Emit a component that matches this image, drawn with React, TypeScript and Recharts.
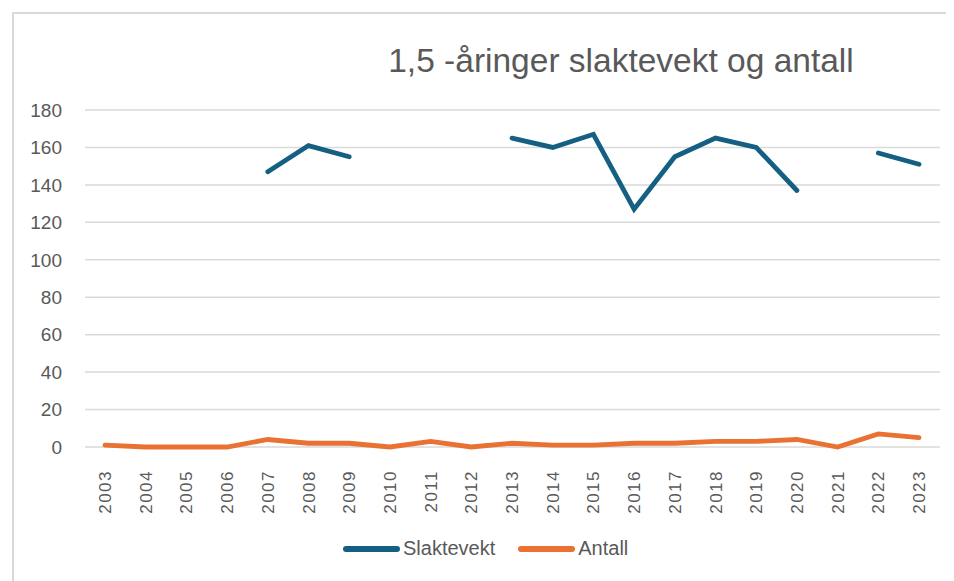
import React from 'react';
import { LineChart, Line, XAxis, YAxis, CartesianGrid } from 'recharts';

const years = [
  '2003', '2004', '2005', '2006', '2007', '2008', '2009', '2010', '2011', '2012', '2013',
  '2014', '2015', '2016', '2017', '2018', '2019', '2020', '2021', '2022', '2023',
];

// null = no slaughter weight recorded that year
const slaktevekt: (number | null)[] = [
  null, null, null, null, 147, 161, 155, null, null, null, 165,
  160, 167, 127, 155, 165, 160, 137, null, 157, 151,
];

const antall = [1, 0, 0, 0, 4, 2, 2, 0, 3, 0, 2, 1, 1, 2, 2, 3, 3, 4, 0, 7, 5];

const yTicks = [0, 20, 40, 60, 80, 100, 120, 140, 160, 180];

const data = years.map((year, i) => ({
  year,
  Slaktevekt: slaktevekt[i],
  Antall: antall[i],
}));

const BLUE = '#156082';
const ORANGE = '#E97132';
const TEXT = '#595959';
const FONT = "'Liberation Sans', Arial, sans-serif";

const YearTick = (props: any) => {
  const { x, y, payload } = props;
  return (
    <text
      transform={`translate(${x + 6},${y + 15}) rotate(-90)`}
      textAnchor="end"
      fill={TEXT}
      fontSize={17}
      letterSpacing={1.5}
      fontFamily={FONT}
    >
      {payload.value}
    </text>
  );
};

const LegendItem = ({ color, label }: { color: string; label: string }) => (
  <div style={{ display: 'flex', alignItems: 'center' }}>
    <div style={{ width: 57, height: 6, borderRadius: 3, background: color, marginRight: 3 }} />
    <span style={{ fontSize: 20, color: TEXT }}>{label}</span>
  </div>
);

export default function App() {
  return (
    <div
      style={{
        position: 'relative',
        width: 942,
        height: 575,
        marginLeft: 4,
        marginTop: 4,
        border: '2px solid #d9d9d9',
        boxSizing: 'border-box',
        background: '#fff',
        fontFamily: FONT,
      }}
    >
      <div
        style={{
          position: 'absolute',
          left: 607,
          top: 27,
          transform: 'translateX(-50%)',
          whiteSpace: 'nowrap',
          fontSize: 33.5,
          color: TEXT,
          lineHeight: 1.2,
        }}
      >
        1,5 -åringer slaktevekt og antall
      </div>
      <LineChart
        width={938}
        height={567}
        data={data}
        margin={{ top: 96, right: 12, left: 21, bottom: 64 }}
      >
        <CartesianGrid vertical={false} stroke="#d9d9d9" strokeWidth={1.5} />
        <XAxis
          dataKey="year"
          axisLine={false}
          tickLine={false}
          interval={0}
          height={70}
          padding={{ left: 20, right: 21 }}
          tick={<YearTick />}
        />
        <YAxis
          domain={[0, 180]}
          ticks={yTicks}
          width={50}
          axisLine={false}
          tickLine={false}
          tickSize={0}
          tickMargin={23}
          tick={{ fill: TEXT, fontSize: 19, fontFamily: FONT }}
        />
        <Line
          dataKey="Slaktevekt"
          stroke={BLUE}
          strokeWidth={4.8}
          dot={false}
          type="linear"
          connectNulls={false}
          strokeLinecap="round"
          isAnimationActive={false}
        />
        <Line
          dataKey="Antall"
          stroke={ORANGE}
          strokeWidth={4.8}
          dot={false}
          type="linear"
          strokeLinecap="round"
          isAnimationActive={false}
        />
      </LineChart>
      <div
        style={{
          position: 'absolute',
          left: 329,
          top: 523,
          display: 'flex',
          gap: 23,
        }}
      >
        <LegendItem color={BLUE} label="Slaktevekt" />
        <LegendItem color={ORANGE} label="Antall" />
      </div>
    </div>
  );
}
